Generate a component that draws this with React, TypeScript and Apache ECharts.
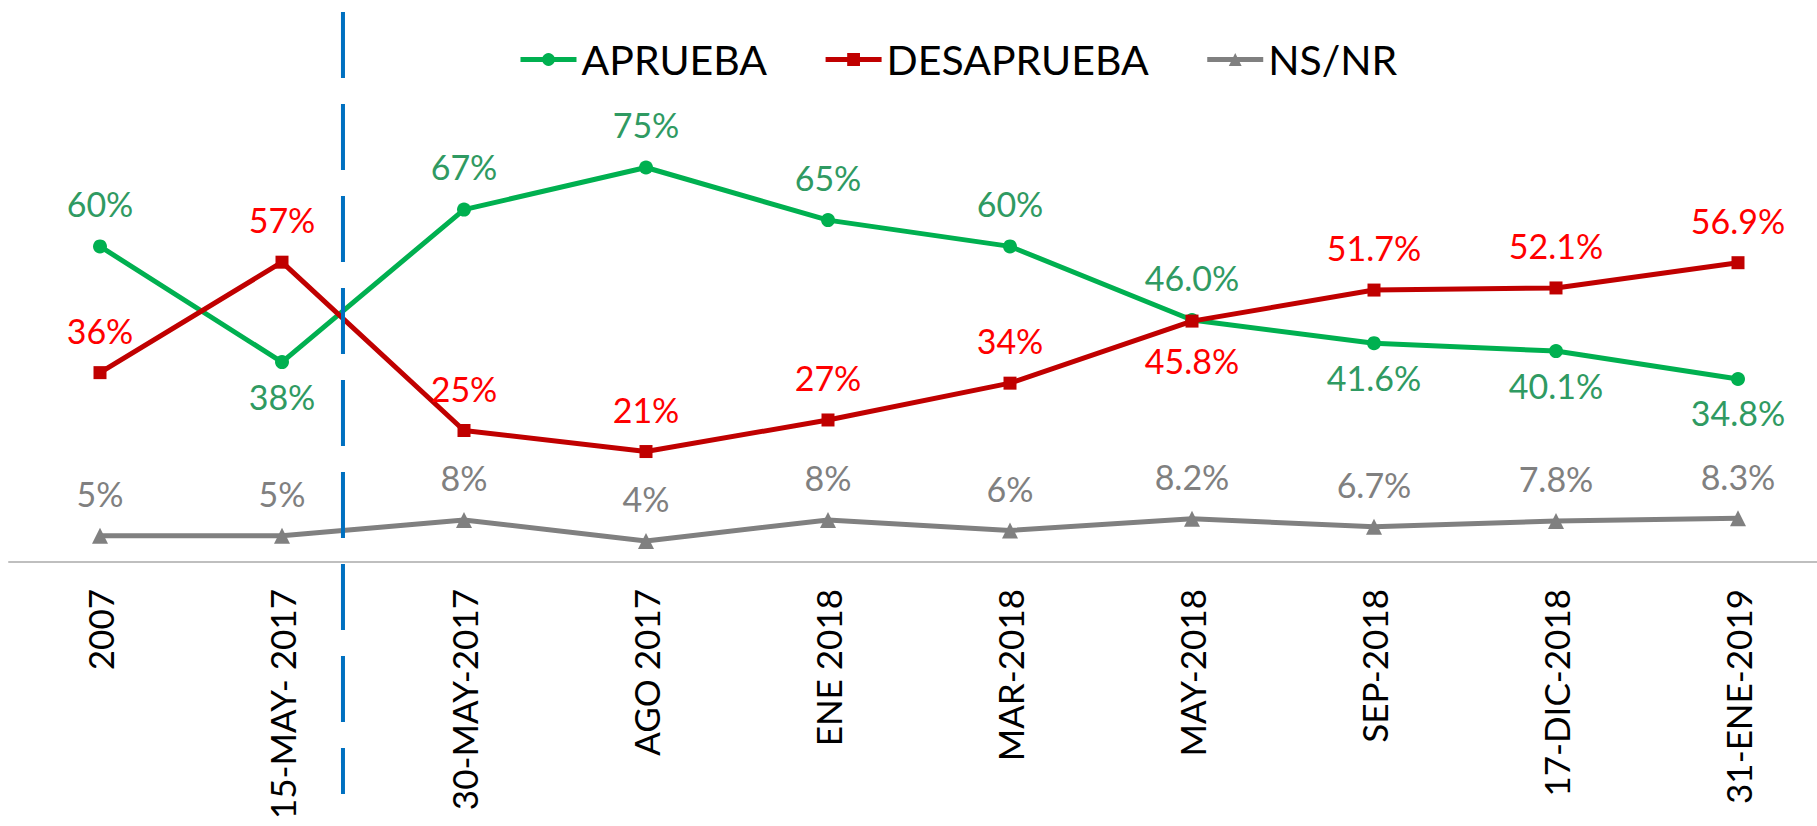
import React, { useEffect, useRef } from "react";
import * as echarts from "echarts";

const categories = [
  "2007",
  "15-MAY- 2017",
  "30-MAY-2017",
  "AGO 2017",
  "ENE 2018",
  "MAR-2018",
  "MAY-2018",
  "SEP-2018",
  "17-DIC-2018",
  "31-ENE-2019",
];
const aprueba = [60, 38, 67, 75, 65, 60, 46.0, 41.6, 40.1, 34.8];
const desaprueba = [36, 57, 25, 21, 27, 34, 45.8, 51.7, 52.1, 56.9];
const nsnr = [5, 5, 8, 4, 8, 6, 8.2, 6.7, 7.8, 8.3];
// index from which values are shown with one decimal
const decimalsFrom = 6;
// points whose label sits below the marker
const apruebaBelow = [1, 7, 8, 9];
const desapruebaBelow = [6];

const FONT = "Lato, 'Liberation Sans', sans-serif";

function fmt(p: any) {
  const v = Number(p.value);
  return (p.dataIndex >= decimalsFrom ? v.toFixed(1) : String(v)) + "%";
}

function build(values: number[], below: number[], belowDist: number) {
  return values.map((v, i) =>
    below.includes(i)
      ? { value: v, label: { position: "bottom", distance: belowDist } }
      : { value: v }
  );
}

export default function App() {
  const ref = useRef<HTMLDivElement>(null);
  useEffect(() => {
    if (!ref.current) return;
    const chart = echarts.init(ref.current, undefined, { renderer: "svg" });
    const labelBase = {
      show: true,
      position: "top",
      distance: 19,
      fontSize: 34,
      fontFamily: FONT,
      formatter: fmt,
    };
    chart.setOption({
      animation: false,
      backgroundColor: "#ffffff",
      legend: {
        left: 513,
        top: 34,
        itemWidth: 56,
        itemHeight: 16,
        itemGap: 56,
        lineStyle: { width: 5 },
        textStyle: { fontSize: 41, fontFamily: FONT, color: "#000000" },
        data: ["APRUEBA", "DESAPRUEBA", "NS/NR"],
      },
      grid: {
        left: 9,
        top: 36,
        width: 1820,
        height: 526,
        containLabel: false,
        outerBoundsMode: "none",
      },
      xAxis: {
        type: "category",
        data: categories,
        boundaryGap: true,
        axisLine: { show: true, lineStyle: { color: "#BFBFBF", width: 2 } },
        axisTick: { show: false },
        axisLabel: {
          rotate: 90,
          margin: 27,
          fontSize: 35,
          fontFamily: FONT,
          color: "#000000",
          interval: 0,
        },
        splitLine: { show: false },
      },
      yAxis: {
        type: "value",
        min: 0,
        max: 100,
        show: false,
        splitLine: { show: false },
      },
      series: [
        {
          name: "APRUEBA",
          type: "line",
          data: build(aprueba, apruebaBelow, 10),
          symbol: "circle",
          symbolSize: 14,
          itemStyle: { color: "#00B050" },
          lineStyle: { color: "#00B050", width: 5 },
          label: { ...labelBase, color: "#2F9A62" },
          z: 3,
        },
        {
          name: "DESAPRUEBA",
          type: "line",
          data: build(desaprueba, desapruebaBelow, 16),
          symbol: "rect",
          symbolSize: 13,
          itemStyle: { color: "#C00000" },
          lineStyle: { color: "#C00000", width: 5 },
          label: { ...labelBase, color: "#FF0000" },
          z: 4,
        },
        {
          name: "NS/NR",
          type: "line",
          data: nsnr,
          symbol: "triangle",
          symbolSize: 16,
          itemStyle: { color: "#808080" },
          lineStyle: { color: "#808080", width: 5 },
          label: { ...labelBase, color: "#808080", distance: 17 },
          z: 2,
        },
      ],
    });
    const x1 = chart.convertToPixel({ xAxisIndex: 0 }, 1) as number;
    const x2 = chart.convertToPixel({ xAxisIndex: 0 }, 2) as number;
    const xd = x1 + (x2 - x1) * 0.335;
    chart.setOption({
      graphic: [
        {
          type: "line",
          shape: { x1: xd, y1: 12, x2: xd, y2: 794 },
          style: { stroke: "#0070C0", lineWidth: 4, lineDash: [66, 26] },
          z: 10,
        },
      ],
    });
    return () => chart.dispose();
  }, []);
  return (
    <div
      ref={ref}
      style={{ position: "absolute", left: 0, top: 0, width: 1817, height: 826 }}
    />
  );
}
